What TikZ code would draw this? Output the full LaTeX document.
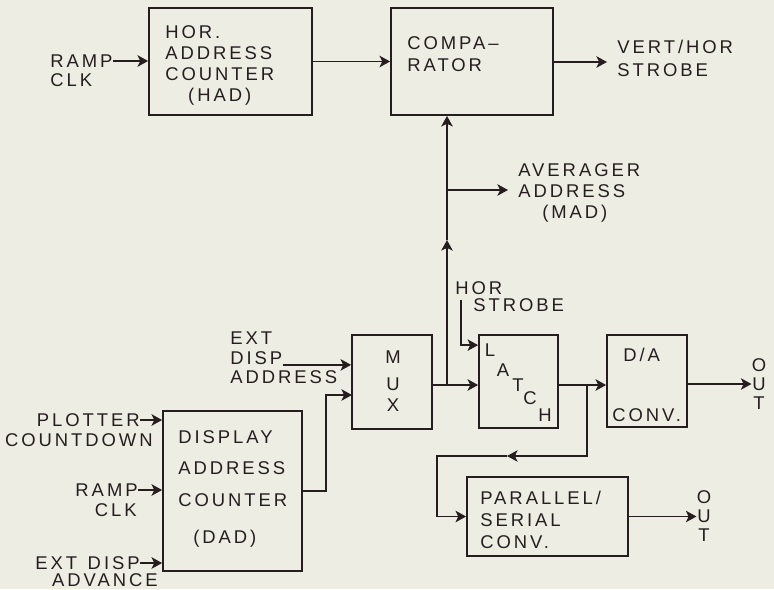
\documentclass[tikz,border=0pt]{standalone}
\usepackage{fontspec}
\newfontfamily\diagfam{Liberation Sans}[LetterSpace=16]
\newcommand\diagfont{\diagfam\fontsize{10.5pt}{12pt}\selectfont}
\usetikzlibrary{arrows.meta,
                fit,
                calc}
\definecolor{paper}{RGB}{237,237,228}
\definecolor{ink}{RGB}{38,30,30}
\tikzset{
  blk/.style={draw=ink, line width=1pt, inner sep=0pt},
  txt/.style={inner sep=0pt, text=ink, font=\diagfont},
  wire/.style={draw=ink, line width=1pt},
  arr/.style={wire, -{Stealth[length=6pt,width=6.5pt,inset=1.5pt]}},
}

\begin{document}
\begin{tikzpicture}[x=0.02cm, y=-0.02cm]
\fill[paper] (0,0) rectangle (774,589);
\useasboundingbox (0,0) rectangle (774,589);

% blocks
\node[blk, fit={(149,8) (312,115)}] (had) {};
\node[blk, fit={(391,8) (553,115)}] (comp) {};
\node[blk, fit={(352,335) (432,429)}] (mux) {};
\node[blk, fit={(479,335) (558,428)}] (latch) {};
\node[blk, fit={(607,335) (687,427)}] (dac) {};
\node[blk, fit={(163,411) (302,571)}] (dad) {};
\node[blk, fit={(467,477) (628,556)}] (ps) {};

% block texts
\node[txt, align=left, anchor=north west] (hadtxt) at (165,25) {HOR.\\ADDRESS\\COUNTER\\\hspace*{13pt}(HAD)};
\node[txt, align=left, anchor=north west] (comptxt) at (407,36) {COMPA\textendash\\[0.6pt]RATOR};
\node[txt, align=center] (muxtxt) at (393,381) {M\\[3.3pt]U\\X};
\foreach \ch/\px/\py in {L/490/350, A/503/370, T/518/385, C/530/398, H/545/415}
  \node[txt] (latch\ch) at (\px,\py) {\ch};
\node[txt, anchor=west] (datxt) at (623,355) {D/A};
\node[txt, anchor=west] (convtxt) at (612,415) {CONV.};
\node[txt, align=left, anchor=north west] (dadtxt) at (178,430)
  {DISPLAY\\[6pt]ADDRESS\\[6pt]COUNTER\\[9pt]\hspace*{8.5pt}(DAD)};
\node[txt, align=left, anchor=north west] (pstxt) at (480,491) {PARALLEL/\\[0.5pt]SERIAL\\[0.5pt]CONV.};

% signal labels
\node[txt, anchor=west] (rampA) at (50,61) {RAMP};
\node[txt, anchor=west] (clkA) at (50,80) {CLK};
\node[txt, align=left, anchor=north west] (vhtxt) at (617,40) {VERT/HOR\\[1pt]STROBE};
\node[txt, align=left, anchor=north west] (avgtxt) at (518,163) {AVERAGER\\ADDRESS\\\hspace*{13.6pt}(MAD)};
\node[txt, anchor=west] (hsA) at (455,288) {HOR};
\node[txt, anchor=west] (hsB) at (473,305) {STROBE};
\node[txt, anchor=west] (extA) at (230,338) {EXT};
\node[txt, anchor=west] (dispA) at (230,358) {DISP};
\node[txt, anchor=west] (addrA) at (230,377) {ADDRESS};
\node[txt, anchor=east] (plotA) at (140,420) {PLOTTER};
\node[txt, anchor=east] (cdA) at (153,440) {COUNTDOWN};
\node[txt, anchor=east] (rampB) at (138,490) {RAMP};
\node[txt, anchor=east] (clkB) at (137,510) {CLK};
\node[txt, anchor=east] (extB) at (140,563) {EXT\hspace{6pt}DISP};
\node[txt, anchor=east] (advB) at (158,580) {ADVANCE};
\node[txt, align=center] (out1) at (759,384) {O\\[-1.2pt]U\\[-1.2pt]T};
\node[txt, align=center] (out2) at (704,516) {O\\[-1pt]U\\[-1pt]T};

% connectors
\coordinate (vhIn) at (607,62);
\coordinate (jA) at (447,385);
\coordinate (midA) at (447,240);
\coordinate (jB) at (447,190);
\coordinate (avgIn) at (508,190);
\coordinate (hsTop) at (461,300);
\coordinate (bend) at (326,395);
\coordinate (muxB) at (352,395);
\coordinate (jC) at (587,385);
\coordinate (fbA) at (507,456);
\coordinate (fbB) at (437,456);

\draw[arr] (rampA.east) -- (rampA.east -| had.west);
\draw[arr] (had.east) -- (had.east -| comp.west);
\draw[arr] (comp.east |- vhIn) -- (vhIn);
\draw[wire] (mux.east |- jA) -- (jA);
\draw[arr] (jA) -- (jA -| latch.west);
\draw[arr] (jA) -- (midA);
\draw[arr] (midA) -- (midA |- comp.south);
\draw[arr] (jB) -- (avgIn);
\draw[arr] (hsTop) |- ($(latch.north west)+(0,11)$);
\draw[arr] (dispA.south east) -- (dispA.south east -| mux.west);
\draw[arr] (dad.east) -| (bend) -- (muxB);
\draw[arr] (plotA.east) -- (plotA.east -| dad.west);
\draw[arr] (rampB.east) -- (rampB.east -| dad.west);
\draw[arr] (extB.east) -- (extB.east -| dad.west);
\draw[wire] (latch.east |- jC) -- (jC);
\draw[arr] (jC) -- (jC -| dac.west);
\draw[arr] (jC) |- (fbA);
\draw[arr] (fbA) -- (fbB) |- (ps.west);
\draw[arr] (out1.west -| dac.east) -- (out1.west);
\draw[arr] (ps.east) -- (ps.east -| out2.west);

\end{tikzpicture}
\end{document}
